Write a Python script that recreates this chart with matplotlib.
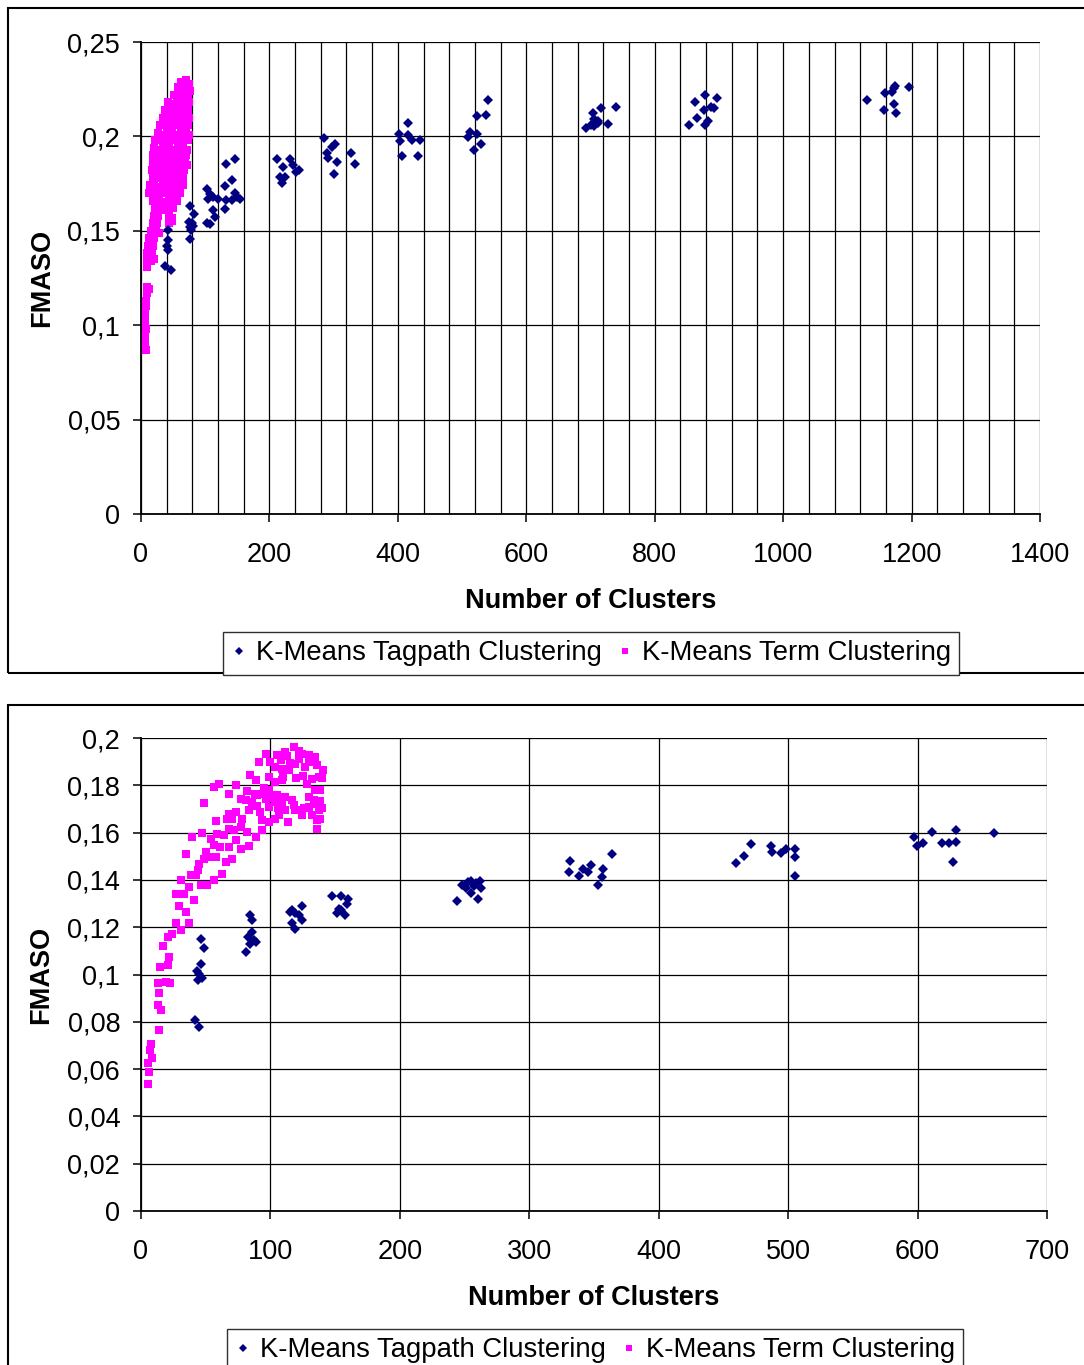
"""Two FMASO vs number-of-clusters scatter panels (K-Means tagpath / term clustering)."""

import matplotlib

matplotlib.use("Agg")

import matplotlib.pyplot as plt
from matplotlib.lines import Line2D
from matplotlib.patches import Rectangle
from matplotlib.ticker import FuncFormatter, MultipleLocator

plt.rcParams["font.family"] = ["Liberation Sans", "DejaVu Sans"]

TAG_COLOR = "#000080"
TERM_COLOR = "#FF00FF"
LABELS = ["K-Means Tagpath Clustering", "K-Means Term Clustering"]

# ---- top panel -------------------------------------------------------------
top_tag_x = [
    42, 42, 41, 42, 38, 46,
    77, 82, 75, 81, 76, 78, 76, 80,
    103, 107, 112, 115, 104, 112, 120, 107, 103,
    146, 132, 142, 131, 146, 132, 141, 154, 131, 149,
    212, 221, 232, 237, 246, 242, 216, 224, 219,
    285, 289, 291, 297, 302, 306, 300, 327, 333,
    402, 403, 416, 416, 422, 435, 407, 432,
    510, 513, 524, 524, 538, 540, 519, 530,
    693, 704, 706, 711, 717, 728, 739, 705, 712, 700,
    854, 862, 866, 876, 879, 878, 883, 887, 893, 897,
    1131, 1157, 1159, 1169, 1173, 1174, 1173, 1176, 1196,
]
top_tag_y = [
    0.1502, 0.1449, 0.1422, 0.1396, 0.1316, 0.1293,
    0.1631, 0.1590, 0.1546, 0.1528, 0.1519, 0.1502, 0.1458, 0.1541,
    0.1541, 0.1537, 0.1608, 0.1572, 0.1670, 0.1678, 0.1670, 0.1696, 0.1723,
    0.1882, 0.1855, 0.1767, 0.1735, 0.1700, 0.1661, 0.1661, 0.1670, 0.1613, 0.1678,
    0.1882, 0.1837, 0.1882, 0.1846, 0.1820, 0.1811, 0.1784, 0.1784, 0.1753,
    0.1993, 0.1912, 0.1887, 0.1943, 0.1961, 0.1864, 0.1799, 0.1912, 0.1852,
    0.2011, 0.1977, 0.2072, 0.2006, 0.1981, 0.1981, 0.1898, 0.1898,
    0.1996, 0.2025, 0.2015, 0.2106, 0.2114, 0.2195, 0.1930, 0.1958,
    0.2044, 0.2125, 0.2053, 0.2072, 0.2148, 0.2066, 0.2157, 0.2091, 0.2081, 0.2062,
    0.2062, 0.2180, 0.2100, 0.2138, 0.2219, 0.2062, 0.2081, 0.2157, 0.2148, 0.2201,
    0.2195, 0.2142, 0.2229, 0.2233, 0.2257, 0.2265, 0.2172, 0.2123, 0.2261,
]

top_term_x = [
    63, 70, 75, 57, 64, 71, 76, 52, 58, 66, 73,
    42, 49, 56, 63, 70, 75, 37, 45, 52, 60, 67, 73,
    34, 41, 48, 56, 63, 70, 74, 29, 36, 44, 51, 59, 66, 73,
    26, 33, 40, 48, 55, 62, 70, 74, 22, 30, 37, 45, 52, 60, 67, 73,
    21, 28, 35, 43, 50, 57, 65, 71, 19, 26, 33, 41, 48, 55, 62, 70,
    18, 25, 32, 40, 47, 54, 61, 68, 72, 17, 24, 31, 38, 46, 53, 60, 67,
    18, 26, 34, 42, 50, 58, 66, 14, 21, 29, 37, 45, 53, 61, 66,
    13, 20, 28, 36, 44, 52, 60, 19, 27, 35, 43, 50, 56,
    22, 30, 38, 46, 50, 20, 26, 44, 49, 19, 25, 43, 48,
    16, 23, 28, 13, 20, 11, 18, 10, 17, 9, 15, 20, 10,
    10, 13, 9, 8, 8, 7, 7, 8, 7, 7, 8,
]
top_term_y = [
    0.229, 0.230, 0.228, 0.226, 0.225, 0.226, 0.224, 0.222, 0.221, 0.222, 0.221,
    0.218, 0.217, 0.218, 0.218, 0.217, 0.218, 0.214, 0.213, 0.214, 0.214, 0.213, 0.214,
    0.210, 0.210, 0.209, 0.210, 0.210, 0.209, 0.210, 0.206, 0.206, 0.205, 0.206, 0.206, 0.205, 0.206,
    0.202, 0.201, 0.202, 0.202, 0.201, 0.202, 0.202, 0.201, 0.198, 0.198, 0.197, 0.198, 0.198, 0.197, 0.198, 0.198,
    0.194, 0.193, 0.194, 0.194, 0.193, 0.194, 0.194, 0.193, 0.190, 0.190, 0.189, 0.190, 0.190, 0.189, 0.190, 0.190,
    0.186, 0.186, 0.185, 0.186, 0.186, 0.185, 0.186, 0.186, 0.185, 0.182, 0.182, 0.181, 0.182, 0.182, 0.181, 0.182, 0.182,
    0.178, 0.178, 0.177, 0.178, 0.178, 0.177, 0.178, 0.174, 0.174, 0.173, 0.174, 0.174, 0.173, 0.174, 0.174,
    0.170, 0.170, 0.169, 0.170, 0.170, 0.169, 0.170, 0.166, 0.166, 0.165, 0.166, 0.166, 0.166,
    0.162, 0.162, 0.161, 0.162, 0.162, 0.158, 0.158, 0.158, 0.157, 0.154, 0.154, 0.154, 0.155,
    0.150, 0.150, 0.149, 0.146, 0.146, 0.142, 0.142, 0.138, 0.138, 0.134, 0.134, 0.135, 0.131,
    0.120, 0.119, 0.117, 0.113, 0.110, 0.106, 0.102, 0.098, 0.094, 0.090, 0.087,
]

# ---- bottom panel ----------------------------------------------------------
bot_tag_x = [
    46, 48.5, 46.7, 43.6, 44.9, 47.4, 44.4, 41.8, 44.9,
    84.6, 85.4, 85.9, 82.8, 87.2, 84.6, 88.5, 81.3,
    124.4, 116.7, 119.2, 115.4, 121.8, 124.4, 116.7, 118.7,
    147.4, 154.6, 160.3, 159, 153, 151.3, 157.7, 154.6,
    244, 248, 251, 253, 255, 257, 259, 260, 262, 263, 255,
    331.6, 330.9, 338.6, 341.2, 345, 347.6, 356.6, 355.9, 352.8, 363.9,
    459.9, 465.8, 471, 487, 487.5, 494.7, 498, 505, 505.5, 505.3,
    597.1, 599.2, 604.3, 611.3, 619, 624.2, 629.4, 629.4, 627.6, 659.3,
]
bot_tag_y = [
    0.1148, 0.1114, 0.1046, 0.1015, 0.1004, 0.0987, 0.0976, 0.0807, 0.0776,
    0.1251, 0.1230, 0.1180, 0.1159, 0.1145, 0.1131, 0.1138, 0.1096,
    0.1289, 0.1272, 0.1258, 0.1265, 0.1251, 0.1230, 0.1218, 0.1194,
    0.1332, 0.1332, 0.1321, 0.1297, 0.1279, 0.1258, 0.1251, 0.1272,
    0.1310, 0.1380, 0.1365, 0.1390, 0.1345, 0.1375, 0.1385, 0.1320, 0.1395, 0.1365, 0.1395,
    0.1482, 0.1435, 0.1417, 0.1445, 0.1435, 0.1463, 0.1446, 0.1411, 0.1379, 0.1510,
    0.1473, 0.1501, 0.1551, 0.1544, 0.1517, 0.1513, 0.1530, 0.1530, 0.1496, 0.1418,
    0.1583, 0.1544, 0.1555, 0.1604, 0.1555, 0.1558, 0.1562, 0.1611, 0.1477, 0.1597,
]

bot_term_x = [
    5.6, 6.4, 5.1, 8.5, 6.9, 7.7, 13.6, 12.8, 15.4, 13.6, 12.8, 22.3, 19.2, 14.6, 20.5, 21.3,
    20.5, 26.9, 30.8, 37.2, 34.6, 26.9, 33.3, 41, 37.2, 46.2, 51.3, 56.4, 62.8, 42.3, 38.5,
    44.9, 48.7, 52.6, 57.7, 65.4, 70.5, 34.6, 50, 56.4, 67.9, 76.9, 83.3, 73.1, 53.8, 59,
    64.1, 39.7, 88.5, 93.6, 82.1, 76.9, 67.9, 70.5, 78.2, 66.7, 83.3, 98.7, 103.8, 113.6,
    67.9, 73.1, 85.9, 80.8, 76.9, 89.7, 96.2, 98.7, 103.8, 109, 116.7, 121.8, 124.4, 132,
    135.9, 135.9, 138.5, 137.2, 133.3, 134.6, 129.5, 67.9, 73.1, 60.5, 56.4, 48.7, 84.6,
    88.5, 91, 96.2, 105.1, 111.5, 117.9, 124.4, 129.5, 134.6, 141, 137.2, 132, 126.9, 119.2,
    114.1, 109, 103.8, 98.7, 103.8, 109, 98.7, 93.6, 111.5, 128.2, 134.6, 129.5, 119.2,
    106.4, 111.5, 92.3, 93.6, 105.1, 100, 108, 115, 122, 130, 136, 140, 138, 120, 125, 110,
    95, 100, 118, 126, 140, 138, 106, 88, 82, 90, 122, 113,
    17, 24, 29, 31, 44, 61, 72, 47, 58,
]
bot_term_y = [
    0.0535, 0.0589, 0.0624, 0.0645, 0.0680, 0.0708, 0.0765, 0.0870, 0.0849, 0.0920, 0.0962,
    0.0966, 0.0969, 0.1032, 0.1039, 0.1075,
    0.1159, 0.1218, 0.1187, 0.1218, 0.1265, 0.1342, 0.1342, 0.1314, 0.1370, 0.1377, 0.1377,
    0.1399, 0.1427, 0.1420, 0.1420,
    0.1469, 0.1490, 0.1497, 0.1497, 0.1476, 0.1490, 0.1508, 0.1518, 0.1546, 0.1539, 0.1532,
    0.1542, 0.1568, 0.1575, 0.1596,
    0.1589, 0.1582, 0.1582, 0.1610, 0.1603, 0.1624, 0.1617, 0.1659, 0.1659, 0.1659, 0.1694,
    0.1645, 0.1659, 0.1645,
    0.1680, 0.1687, 0.1730, 0.1737, 0.1744, 0.1758, 0.1744, 0.1708, 0.1730, 0.1730, 0.1737,
    0.1694, 0.1673, 0.1673,
    0.1617, 0.1652, 0.1659, 0.1694, 0.1737, 0.1779, 0.1751, 0.1765, 0.1800, 0.1807, 0.1793,
    0.1725, 0.1842,
    0.1821, 0.1899, 0.1931, 0.1927, 0.1941, 0.1962, 0.1934, 0.1927, 0.1920, 0.1866, 0.1835,
    0.1828, 0.1877, 0.1892,
    0.1863, 0.1870, 0.1877, 0.1835, 0.1814, 0.1821, 0.1779, 0.1765, 0.1751, 0.1807, 0.1723,
    0.1708, 0.1694,
    0.1673, 0.1694, 0.1687, 0.1652, 0.1758, 0.1900, 0.1905, 0.1895, 0.1910, 0.1900, 0.1885,
    0.1830, 0.1780, 0.1830, 0.1840, 0.1835,
    0.1790, 0.1745, 0.1715, 0.1705, 0.1705, 0.1735, 0.1705, 0.1765, 0.1775, 0.1712, 0.1945, 0.1925,
    0.1120, 0.1170, 0.1290, 0.1400, 0.1440, 0.1540, 0.1610, 0.1600, 0.1650,
]

FS = 19.5
LEGEND_FS = 19.8


def _comma(v, _pos=None) -> str:
    return f"{round(v, 4):g}".replace(".", ",")


def _draw_panel(fig, rect, tag_x, tag_y, term_x, term_y, xmax, ymax, xmajor, xgrid, ystep):
    ax = fig.add_axes(rect)
    ax.plot(term_x, term_y, ls="none", marker="s", ms=5.7, mew=0, color=TERM_COLOR, zorder=3, clip_on=False)
    ax.plot(tag_x, tag_y, ls="none", marker="D", ms=5.4, mew=0, color=TAG_COLOR, zorder=4, clip_on=False)
    ax.set_xlim(0, xmax)
    ax.set_ylim(0, ymax)

    ax.xaxis.set_major_locator(MultipleLocator(xmajor))
    ax.xaxis.set_minor_locator(MultipleLocator(xgrid))
    ax.yaxis.set_major_locator(MultipleLocator(ystep))
    ax.yaxis.set_major_formatter(FuncFormatter(_comma))
    ax.xaxis.set_major_formatter(FuncFormatter(lambda v, p: f"{v:g}"))

    ax.grid(which="major", axis="y", color="black", linewidth=0.9, zorder=1)
    ax.grid(which="minor", axis="x", color="black", linewidth=0.9, zorder=1)
    ax.grid(which="major", axis="x", color="black", linewidth=0.9, zorder=1)
    ax.set_axisbelow(True)

    for side in ("top", "right"):
        ax.spines[side].set_visible(False)
    for side in ("left", "bottom"):
        ax.spines[side].set_linewidth(1.3)
        ax.spines[side].set_zorder(5)

    ax.tick_params(which="major", direction="out", length=5.5, width=1.1, labelsize=FS)
    ax.tick_params(axis="y", which="major", pad=9.5)
    ax.tick_params(axis="x", which="major", pad=14.5)
    ax.tick_params(which="minor", length=0)

    ax.set_xlabel("Number of Clusters", fontsize=FS, fontweight="bold", va="center")
    ax.set_ylabel("FMASO", fontsize=FS, fontweight="bold", va="center")
    ax.xaxis.set_label_coords(0.5, -0.184)
    ax.yaxis.set_label_coords(-0.11, 0.5)
    return ax


def _legend(fig, cx, top_px):
    handles = [
        Line2D([], [], ls="none", marker="D", ms=4.0, mew=0, color=TAG_COLOR),
        Line2D([], [], ls="none", marker="s", ms=5.0, mew=0, color=TERM_COLOR),
    ]
    leg = fig.legend(
        handles,
        LABELS,
        loc="upper center",
        bbox_to_anchor=(cx / 1084, 1 - top_px / 1365),
        ncol=2,
        fontsize=LEGEND_FS,
        frameon=True,
        fancybox=False,
        framealpha=1,
        edgecolor="#303030",
        handlelength=0.6,
        handletextpad=0.3,
        columnspacing=0.55,
        borderpad=0.3,
        borderaxespad=0,
    )
    leg.get_frame().set_linewidth(1.0)


fig = plt.figure(figsize=(10.84, 13.65), dpi=100)

# chart-area boxes (right side runs off the picture)
for top_px, bottom_px in ((8, 673), (705, 1372)):
    fig.patches.append(
        Rectangle(
            (7.5 / 1084, 1 - bottom_px / 1365),
            1.2,
            (bottom_px - top_px) / 1365,
            transform=fig.transFigure,
            fill=False,
            edgecolor="black",
            linewidth=1.5,
        )
    )

_draw_panel(
    fig, [141 / 1084, 1 - 514 / 1365, 899 / 1084, 472 / 1365],
    top_tag_x, top_tag_y, top_term_x, top_term_y,
    xmax=1400, ymax=0.25, xmajor=200, xgrid=40, ystep=0.05,
)
_draw_panel(
    fig, [141 / 1084, 1 - 1211 / 1365, 906 / 1084, 473 / 1365],
    bot_tag_x, bot_tag_y, bot_term_x, bot_term_y,
    xmax=700, ymax=0.2, xmajor=100, xgrid=100, ystep=0.02,
)

_legend(fig, 591, 632)
_legend(fig, 595, 1329)

fig.savefig("out.png", dpi=100, facecolor="white")
